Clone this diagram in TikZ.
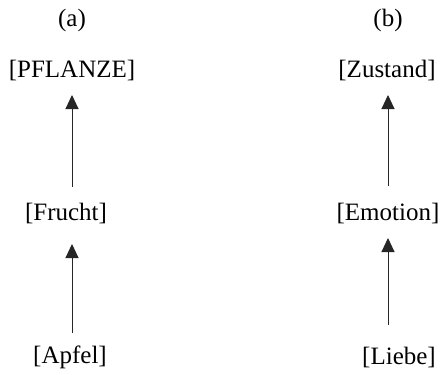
\documentclass[tikz,border=0pt]{standalone}
\usepackage{fontspec}
\setmainfont{Liberation Serif}
\usetikzlibrary{arrows.meta}

\begin{document}
\begin{tikzpicture}[x=1pt,y=-1pt,
	font=\fontsize{25}{30}\selectfont,
	every node/.style={inner sep=0pt,outer sep=0pt},
	up/.style={-{Triangle[length=14pt,width=13pt]},line width=1pt,draw=black!85},]

	\useasboundingbox (0,0) rectangle (440,375);

	% column (a)
	\node (a) at (72,20) {(a)};
	\node (pflanze) at (72,70) {[PFLANZE]};
	\node (frucht) at (66,213) {[Frucht]};
	\node (apfel) at (70,357) {[Apfel]};

	% column (b)
	\node (b) at (388,20) {(b)};
	\node (zustand) at (387,70) {[Zustand]};
	\node (emotion) at (388,213) {[Emotion]};
	\node (liebe) at (399,357) {[Liebe]};

	\draw[up]([yshift=24pt]apfel.center -| a)--([yshift=-31pt]frucht.center -| a);
	\draw[up]([yshift=26pt]frucht.center -| a)--([yshift=-25pt]pflanze.center -| a);
	\draw[up]([yshift=32pt]liebe.center -| b)--([yshift=-25pt]emotion.center -| b);
	\draw[up]([yshift=27pt]emotion.center -| b)--([yshift=-25pt]zustand.center -| b);
\end{tikzpicture}
\end{document}
